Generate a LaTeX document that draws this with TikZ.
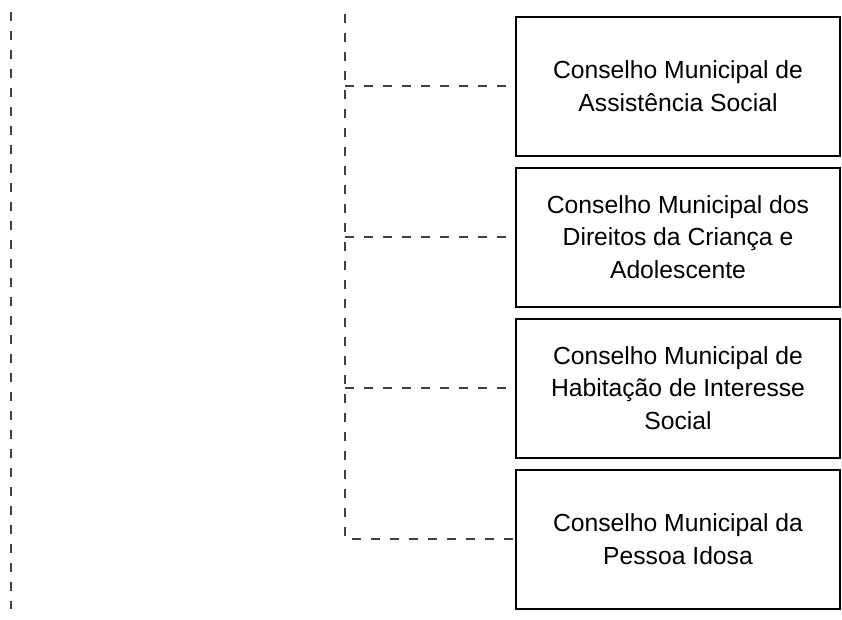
\documentclass[tikz,border=0pt]{standalone}
\usepackage{fontspec}
\setmainfont{Liberation Sans}
\usetikzlibrary{positioning}
\tikzset{council/.style = {draw, line width = 2pt, minimum width = 324pt, minimum height = 139pt,
    inner sep = 0, align = center, font = \fontsize{24.7}{32.5}\selectfont}}
\tikzset{link/.style = {dash pattern = on 8.5pt off 10.5pt, line width = 1.6pt, black!75}}

\begin{document}
\begin{tikzpicture}[x = 1pt, y = -1pt, node distance = 10pt]
    \useasboundingbox (0, 0) rectangle (842, 619);

    \node [council] (assist) at (678, 86) {Conselho Municipal de\\Assistência Social};
    \node [council, below = of assist] (child) {Conselho Municipal dos\\Direitos da Criança e\\Adolescente};
    \node [council, below = of child] (housing) {Conselho Municipal de\\Habitação de Interesse\\Social};
    \node [council, below = of housing] (elder) {Conselho Municipal da\\Pessoa Idosa};

    \coordinate (trunk) at (345, 14);
    \coordinate (elbow) at (trunk |- elder.west);
    \coordinate (left top) at (11, 12);
    \coordinate (left bottom) at (11, 609);

    \draw [link] (left top) -- (left bottom);
    \draw [link] (trunk) -- (elbow) -- (elder.west);
    \draw [link] (trunk |- assist.west) -- (assist.west);
    \draw [link] (trunk |- child.west) -- (child.west);
    \draw [link] (trunk |- housing.west) -- (housing.west);
\end{tikzpicture}
\end{document}
